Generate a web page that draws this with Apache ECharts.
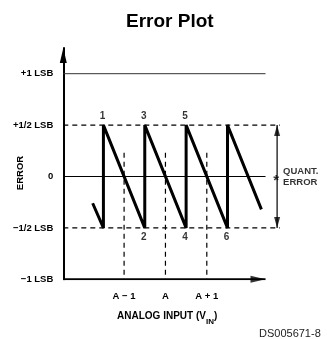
<!DOCTYPE html>
<html>
<head>
<meta charset="utf-8">
<script src="https://cdn.jsdelivr.net/npm/echarts@6/dist/echarts.min.js"></script>
<style>
  html, body { margin: 0; padding: 0; background: #fff; }
  #chart { width: 327px; height: 339px; }
</style>
</head>
<body>
<div id="chart"></div>
<script>
// Quantization error of an ideal converter, in LSB, against analog input.
// x unit = 1 LSB of input, with code A centred at 0.
const errorCurve = [
  [-1.76, -0.26], [-1.5, -0.5], [-1.5, 0.5], [-0.5, -0.5], [-0.5, 0.5],
  [0.5, -0.5], [0.5, 0.5], [1.5, -0.5], [1.5, 0.5], [2.32, -0.32]
];
const codeNames = ['1', '2', '3', '4', '5', '6'];
const codePoints = [[-1.5, 0.5], [-0.5, -0.5], [-0.5, 0.5], [0.5, -0.5], [0.5, 0.5], [1.5, -0.5]];
const yTickValues = [-1, -0.5, 0, 0.5, 1];
const yTickLabels = ['\u22121 LSB', '\u22121/2 LSB', '0', '+1/2 LSB', '+1 LSB'];
const xTickValues = [-1, 0, 1];
const xTickLabels = ['A \u2212 1', 'A', 'A + 1'];
const halfLsb = 0.5;
const fullLsb = 1;
const xRange = [-2.47, 2.77];   // plotting area, including the side annotation
const xAxisEnd = 2.42;          // where the input axis arrow ends
const yRange = [-1, 1.25];
const codeLineTop = 0.23;
const quantArrowX = 2.70;

const FONT = "'Liberation Sans', Arial, sans-serif";
const INK = '#000';

const chart = echarts.init(document.getElementById('chart'), null, { renderer: 'canvas' });

const lineBase = { type: 'line', symbol: 'none', silent: true, animation: false };

const series = [
  // input axis with arrow
  Object.assign({}, lineBase, {
    data: [[xRange[0], yRange[0]], [xAxisEnd, yRange[0]]],
    lineStyle: { color: INK, width: 2 }, z: 6
  }),
  // +1 LSB reference
  Object.assign({}, lineBase, {
    data: [[xRange[0], fullLsb], [xAxisEnd, fullLsb]],
    lineStyle: { color: '#333', width: 1 }
  }),
  // zero error line
  Object.assign({}, lineBase, {
    data: [[xRange[0], 0], [xAxisEnd, 0]],
    lineStyle: { color: INK, width: 1 }
  }),
  // ±1/2 LSB bounds
  Object.assign({}, lineBase, {
    data: [[xRange[0], halfLsb], [xRange[1], halfLsb]],
    lineStyle: { color: INK, width: 1.2, type: [5, 4] }
  }),
  Object.assign({}, lineBase, {
    data: [[xRange[0], -halfLsb], [xRange[1], -halfLsb]],
    lineStyle: { color: INK, width: 1.2, type: [5, 4] }
  })
];

// code centres A-1, A, A+1
xTickValues.forEach(function (v) {
  series.push(Object.assign({}, lineBase, {
    data: [[v, codeLineTop], [v, yRange[0]]],
    lineStyle: { color: INK, width: 1.2, type: [5, 4] }
  }));
});

// error sawtooth
series.push(Object.assign({}, lineBase, {
  data: errorCurve,
  lineStyle: { color: INK, width: 3, join: 'miter', miterLimit: 4 },
  z: 5
}));

// quantization error span with arrowheads
series.push(Object.assign({}, lineBase, {
  data: [[quantArrowX, halfLsb], [quantArrowX, -halfLsb]],
  lineStyle: { color: INK, width: 1.2 }
}));
series.push({
  type: 'scatter', silent: true, animation: false, clip: false,
  symbol: 'triangle',
  itemStyle: { color: INK },
  z: 7,
  data: [
    { value: [quantArrowX, halfLsb], symbolSize: [6, 11], symbolOffset: [0, 5.5] },
    { value: [quantArrowX, -halfLsb], symbolSize: [6, 11], symbolRotate: 180, symbolOffset: [0, -5.5] },
    { value: [xAxisEnd, yRange[0]], symbolSize: [7, 15], symbolRotate: -90, symbolOffset: [-7.5, 0] }
  ]
});

// code numbers and side annotation
series.push({
  type: 'scatter', silent: true, clip: false, animation: false,
  symbolSize: 0,
  label: {
    show: true, color: INK, fontFamily: FONT, fontWeight: 'bold', fontSize: 10,
    formatter: function (p) { return p.name; }
  },
  data: codeNames.map(function (n, i) {
    const top = codePoints[i][1] > 0;
    return {
      name: n, value: codePoints[i],
      label: { position: top ? 'top' : 'bottom', distance: 4, offset: [-1, 0] }
    };
  }).concat([
    { name: '*', value: [quantArrowX, 0],
      label: { position: 'inside', fontSize: 15, offset: [-1, 4] } },
    { name: 'QUANT.\nERROR', value: [quantArrowX, 0],
      label: { position: 'right', distance: 6, align: 'left', lineHeight: 11, fontSize: 9.5 } }
  ])
});

chart.setOption({
  animation: false,
  backgroundColor: '#fff',
  title: {
    text: 'Error Plot',
    left: 121, top: 7,
    textStyle: { fontFamily: FONT, fontWeight: 'bold', fontSize: 19, color: INK }
  },
  grid: { left: 63.3, right: 47, top: 48, bottom: 59.7, containLabel: false },
  xAxis: {
    type: 'value', min: xRange[0], max: xRange[1],
    axisLine: { show: false },
    axisTick: { show: false },
    splitLine: { show: false },
    axisLabel: {
      customValues: xTickValues, margin: 12,
      color: INK, fontFamily: FONT, fontWeight: 'bold', fontSize: 9.5,
      formatter: function (v) { const i = xTickValues.indexOf(v); return i < 0 ? '' : xTickLabels[i]; }
    },
    name: '{a|ANALOG INPUT (V}{s|IN}{a|)}',
    nameLocation: 'middle', nameGap: 32,
    nameTextStyle: {
      padding: [0, 9, 0, 0],
      rich: {
        a: { fontFamily: FONT, fontWeight: 'bold', fontSize: 10, color: INK, lineHeight: 14, verticalAlign: 'top' },
        s: { fontFamily: FONT, fontWeight: 'bold', fontSize: 8, color: INK, lineHeight: 14, verticalAlign: 'bottom', padding: [5, 0, 0, 0] }
      }
    }
  },
  yAxis: {
    type: 'value', min: yRange[0], max: yRange[1],
    axisLine: { show: true, onZero: false, lineStyle: { color: INK, width: 2 },
      symbol: ['none', 'triangle'], symbolSize: [7, 15], symbolOffset: [0, -7.5] },
    axisTick: { show: false },
    splitLine: { show: false },
    axisLabel: {
      customValues: yTickValues, margin: 10,
      color: INK, fontFamily: FONT, fontWeight: 'bold', fontSize: 9.5,
      formatter: function (v) { const i = yTickValues.indexOf(v); return i < 0 ? '' : yTickLabels[i]; }
    }
  },
  graphic: [
    { type: 'text', x: 20, y: 173, rotation: Math.PI / 2, silent: true,
      style: { text: 'ERROR', fill: INK, font: "bold 9.5px " + FONT, align: 'center', verticalAlign: 'middle' } },
    { type: 'text', x: 259, y: 334, silent: true,
      style: { text: 'DS005671-8', fill: '#222', font: "11px " + FONT, align: 'left', verticalAlign: 'middle' } }
  ],
  series: series
});
</script>
</body>
</html>
